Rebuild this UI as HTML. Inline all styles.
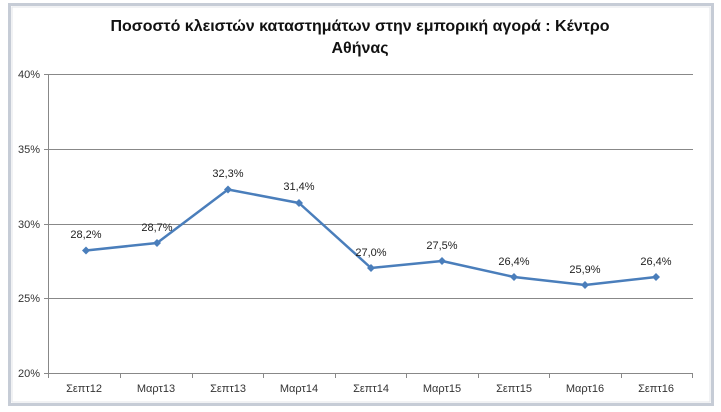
<!DOCTYPE html>
<html><head><meta charset="utf-8"><style>
html,body{margin:0;padding:0;background:#fff;}
svg{display:block;font-family:"Liberation Sans","DejaVu Sans",sans-serif;}
</style></head><body>
<svg width="721" height="412" viewBox="0 0 721 412">
<rect x="0" y="0" width="721" height="412" fill="#fff"/>
<rect x="9.5" y="4.5" width="703" height="400" fill="#fff" stroke="#c6ccd6" stroke-width="3"/>
<rect x="12" y="7" width="698" height="395" fill="#fff" stroke="#e3e6ea" stroke-width="1"/>
<text x="360" y="31" text-anchor="middle" font-size="16" font-weight="bold" fill="#111">Ποσοστό  κλειστών  καταστημάτων  στην εμπορική αγορά : Κέντρο</text>
<text x="360" y="53" text-anchor="middle" font-size="16" font-weight="bold" fill="#111">Αθήνας</text>
<g stroke="#888" stroke-width="1">
<line x1="48" y1="74.5" x2="693" y2="74.5"/>
<line x1="48" y1="149.5" x2="693" y2="149.5"/>
<line x1="48" y1="224.5" x2="693" y2="224.5"/>
<line x1="48" y1="298.5" x2="693" y2="298.5"/>
<line x1="48" y1="373.5" x2="693" y2="373.5"/>
<line x1="48.5" y1="74" x2="48.5" y2="373"/>
<line x1="44" y1="74.5" x2="48" y2="74.5"/><line x1="44" y1="149.5" x2="48" y2="149.5"/><line x1="44" y1="224.5" x2="48" y2="224.5"/><line x1="44" y1="298.5" x2="48" y2="298.5"/><line x1="44" y1="373.5" x2="48" y2="373.5"/>
<line x1="48.5" y1="373" x2="48.5" y2="378"/><line x1="120.5" y1="373" x2="120.5" y2="378"/><line x1="192.5" y1="373" x2="192.5" y2="378"/><line x1="263.5" y1="373" x2="263.5" y2="378"/><line x1="335.5" y1="373" x2="335.5" y2="378"/><line x1="406.5" y1="373" x2="406.5" y2="378"/><line x1="478.5" y1="373" x2="478.5" y2="378"/><line x1="549.5" y1="373" x2="549.5" y2="378"/><line x1="621.5" y1="373" x2="621.5" y2="378"/><line x1="692.5" y1="373" x2="692.5" y2="378"/>
</g>
<g font-size="11" fill="#333" text-anchor="end">
<text x="40" y="78">40%</text><text x="40" y="153">35%</text><text x="40" y="228">30%</text><text x="40" y="302">25%</text><text x="40" y="377">20%</text>
</g>
<g font-size="11" fill="#333" text-anchor="middle">
<text x="84" y="392">Σεπτ12</text><text x="156" y="392">Μαρτ13</text><text x="228" y="392">Σεπτ13</text><text x="299" y="392">Μαρτ14</text><text x="371" y="392">Σεπτ14</text><text x="442" y="392">Μαρτ15</text><text x="514" y="392">Σεπτ15</text><text x="585" y="392">Μαρτ16</text><text x="656" y="392">Σεπτ16</text>
</g>
<polyline fill="none" stroke="#4a7ebb" stroke-width="2.5" stroke-linejoin="round" points="86,250.5 157,243 228,189.5 299,203 371,268 442,261 514,277 585,285 656,277"/>
<g fill="#4a7ebb">
<path d="M86 246.5l4 4-4 4-4-4z"/><path d="M157 239l4 4-4 4-4-4z"/><path d="M228 185.5l4 4-4 4-4-4z"/><path d="M299 199l4 4-4 4-4-4z"/><path d="M371 264l4 4-4 4-4-4z"/><path d="M442 257l4 4-4 4-4-4z"/><path d="M514 273l4 4-4 4-4-4z"/><path d="M585 281l4 4-4 4-4-4z"/><path d="M656 273l4 4-4 4-4-4z"/>
</g>
<g font-size="11" fill="#222" text-anchor="middle">
<text x="86" y="238">28,2%</text><text x="157" y="231">28,7%</text><text x="228" y="177">32,3%</text><text x="299" y="190">31,4%</text><text x="371" y="256">27,0%</text><text x="442" y="249">27,5%</text><text x="514" y="265">26,4%</text><text x="585" y="273">25,9%</text><text x="656" y="265">26,4%</text>
</g>
</svg>
</body></html>
